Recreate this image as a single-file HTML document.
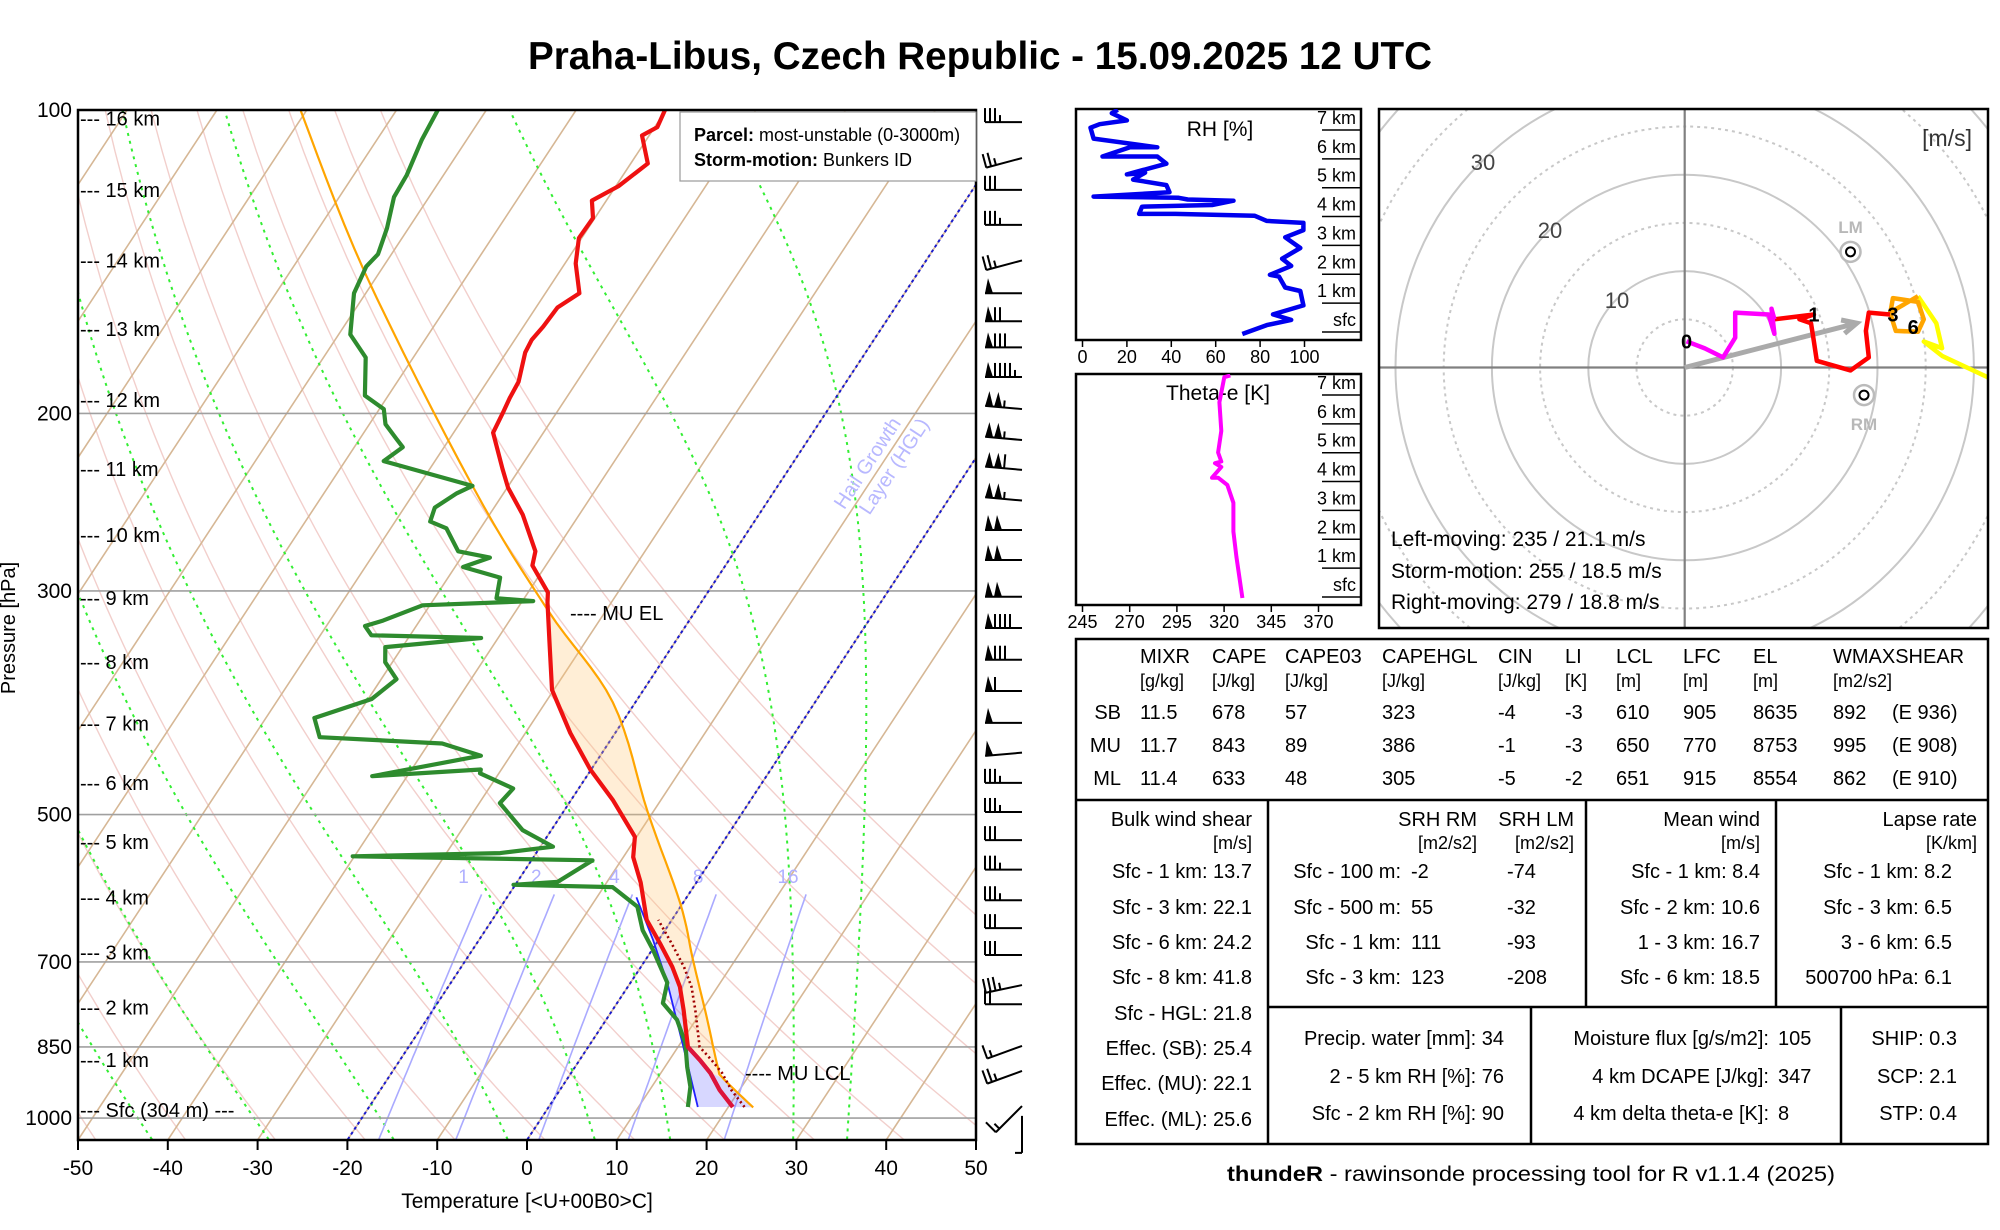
<!DOCTYPE html>
<html><head><meta charset="utf-8"><title>Praha-Libus sounding</title>
<style>
html,body{margin:0;padding:0;background:#fff;}
svg{display:block;font-family:"Liberation Sans",Arial,sans-serif;}
.t{font-size:20px;fill:#000;}
</style></head>
<body>
<svg id="root" xmlns="http://www.w3.org/2000/svg" width="2000" height="1230" viewBox="0 0 2000 1230">
<rect x="0" y="0" width="2000" height="1230" fill="#fff"/>
<text x="980" y="69" text-anchor="middle" font-size="39" font-weight="bold" textLength="904" lengthAdjust="spacingAndGlyphs">Praha-Libus, Czech Republic - 15.09.2025 12 UTC</text>
<defs>
<clipPath id="skewclip"><rect x="78" y="110" width="898" height="1030"/></clipPath>
<clipPath id="hodoclip"><rect x="1379" y="109" width="609" height="519"/></clipPath>
<clipPath id="rhclip"><rect x="1076" y="109" width="285" height="231"/></clipPath>
<clipPath id="thclip"><rect x="1076" y="374" width="285" height="231"/></clipPath>
</defs>
<g id="skew"></g>
<g id="barbs"></g>
<g id="rh"></g>
<g id="th"></g>
<g id="hodo"></g>

<g id="table" class="t">
<rect x="1076" y="639" width="912" height="505" fill="none" stroke="#000" stroke-width="2.5"/>
<line x1="1076" y1="800" x2="1988" y2="800" stroke="#000" stroke-width="2.5"/>
<line x1="1268" y1="800" x2="1268" y2="1144" stroke="#000" stroke-width="2.5"/>
<line x1="1586" y1="800" x2="1586" y2="1007" stroke="#000" stroke-width="2.5"/>
<line x1="1776" y1="800" x2="1776" y2="1007" stroke="#000" stroke-width="2.5"/>
<line x1="1268" y1="1007" x2="1988" y2="1007" stroke="#000" stroke-width="2.5"/>
<line x1="1531" y1="1007" x2="1531" y2="1144" stroke="#000" stroke-width="2.5"/>
<line x1="1841" y1="1007" x2="1841" y2="1144" stroke="#000" stroke-width="2.5"/>
<g dominant-baseline="central">
<text x="1140" y="657">MIXR</text>
<text x="1212" y="657">CAPE</text>
<text x="1285" y="657">CAPE03</text>
<text x="1382" y="657">CAPEHGL</text>
<text x="1498" y="657">CIN</text>
<text x="1565" y="657">LI</text>
<text x="1616" y="657">LCL</text>
<text x="1683" y="657">LFC</text>
<text x="1753" y="657">EL</text>
<text x="1833" y="657">WMAXSHEAR</text>
<g font-size="18">
<text x="1140" y="681">[g/kg]</text>
<text x="1212" y="681">[J/kg]</text>
<text x="1285" y="681">[J/kg]</text>
<text x="1382" y="681">[J/kg]</text>
<text x="1498" y="681">[J/kg]</text>
<text x="1565" y="681">[K]</text>
<text x="1616" y="681">[m]</text>
<text x="1683" y="681">[m]</text>
<text x="1753" y="681">[m]</text>
<text x="1833" y="681">[m2/s2]</text>
</g>
<g>
<text x="1121" y="713" text-anchor="end">SB</text>
<text x="1140" y="713">11.5</text>
<text x="1212" y="713">678</text>
<text x="1285" y="713">57</text>
<text x="1382" y="713">323</text>
<text x="1498" y="713">-4</text>
<text x="1565" y="713">-3</text>
<text x="1616" y="713">610</text>
<text x="1683" y="713">905</text>
<text x="1753" y="713">8635</text>
<text x="1833" y="713">892</text>
<text x="1892" y="713">(E 936)</text>
</g>
<g>
<text x="1121" y="746" text-anchor="end">MU</text>
<text x="1140" y="746">11.7</text>
<text x="1212" y="746">843</text>
<text x="1285" y="746">89</text>
<text x="1382" y="746">386</text>
<text x="1498" y="746">-1</text>
<text x="1565" y="746">-3</text>
<text x="1616" y="746">650</text>
<text x="1683" y="746">770</text>
<text x="1753" y="746">8753</text>
<text x="1833" y="746">995</text>
<text x="1892" y="746">(E 908)</text>
</g>
<g>
<text x="1121" y="779" text-anchor="end">ML</text>
<text x="1140" y="779">11.4</text>
<text x="1212" y="779">633</text>
<text x="1285" y="779">48</text>
<text x="1382" y="779">305</text>
<text x="1498" y="779">-5</text>
<text x="1565" y="779">-2</text>
<text x="1616" y="779">651</text>
<text x="1683" y="779">915</text>
<text x="1753" y="779">8554</text>
<text x="1833" y="779">862</text>
<text x="1892" y="779">(E 910)</text>
</g>
</g>
<g dominant-baseline="central" text-anchor="end">
<text x="1252" y="820">Bulk wind shear</text>
<text x="1252" y="843" font-size="18">[m/s]</text>
<text x="1252" y="872">Sfc - 1 km: 13.7</text>
<text x="1252" y="908">Sfc - 3 km: 22.1</text>
<text x="1252" y="943">Sfc - 6 km: 24.2</text>
<text x="1252" y="978">Sfc - 8 km: 41.8</text>
<text x="1252" y="1014">Sfc - HGL: 21.8</text>
<text x="1252" y="1049">Effec. (SB): 25.4</text>
<text x="1252" y="1084">Effec. (MU): 22.1</text>
<text x="1252" y="1120">Effec. (ML): 25.6</text>
</g>
<g dominant-baseline="central">
<text x="1477" y="820" text-anchor="end">SRH RM</text>
<text x="1574" y="820" text-anchor="end">SRH LM</text>
<text x="1477" y="843" text-anchor="end" font-size="18">[m2/s2]</text>
<text x="1574" y="843" text-anchor="end" font-size="18">[m2/s2]</text>
<text x="1401" y="872" text-anchor="end">Sfc - 100 m:</text>
<text x="1411" y="872">-2</text>
<text x="1507" y="872">-74</text>
<text x="1401" y="908" text-anchor="end">Sfc - 500 m:</text>
<text x="1411" y="908">55</text>
<text x="1507" y="908">-32</text>
<text x="1401" y="943" text-anchor="end">Sfc - 1 km:</text>
<text x="1411" y="943">111</text>
<text x="1507" y="943">-93</text>
<text x="1401" y="978" text-anchor="end">Sfc - 3 km:</text>
<text x="1411" y="978">123</text>
<text x="1507" y="978">-208</text>
</g>
<g dominant-baseline="central" text-anchor="end">
<text x="1760" y="820">Mean wind</text>
<text x="1760" y="843" font-size="18">[m/s]</text>
<text x="1760" y="872">Sfc - 1 km: 8.4</text>
<text x="1760" y="908">Sfc - 2 km: 10.6</text>
<text x="1760" y="943">1 - 3 km: 16.7</text>
<text x="1760" y="978">Sfc - 6 km: 18.5</text>
</g>
<g dominant-baseline="central" text-anchor="end">
<text x="1977" y="820">Lapse rate</text>
<text x="1977" y="843" font-size="18">[K/km]</text>
<text x="1952" y="872">Sfc - 1 km: 8.2</text>
<text x="1952" y="908">Sfc - 3 km: 6.5</text>
<text x="1952" y="943">3 - 6 km: 6.5</text>
<text x="1952" y="978">500700 hPa: 6.1</text>
</g>
<g dominant-baseline="central" text-anchor="end">
<text x="1504" y="1039">Precip. water [mm]: 34</text>
<text x="1504" y="1077">2 - 5 km RH [%]: 76</text>
<text x="1504" y="1114">Sfc - 2 km RH [%]: 90</text>
</g>
<g dominant-baseline="central">
<text x="1769" y="1039" text-anchor="end">Moisture flux [g/s/m2]:</text>
<text x="1778" y="1039">105</text>
<text x="1769" y="1077" text-anchor="end">4 km DCAPE [J/kg]:</text>
<text x="1778" y="1077">347</text>
<text x="1769" y="1114" text-anchor="end">4 km delta theta-e [K]:</text>
<text x="1778" y="1114">8</text>
</g>
<g dominant-baseline="central" text-anchor="end">
<text x="1957" y="1039">SHIP: 0.3</text>
<text x="1957" y="1077">SCP: 2.1</text>
<text x="1957" y="1114">STP: 0.4</text>
</g>
</g>
<text x="1531" y="1181" text-anchor="middle" font-size="21" textLength="608" lengthAdjust="spacingAndGlyphs"><tspan font-weight="bold">thundeR</tspan> - rawinsonde processing tool for R v1.1.4 (2025)</text>
</svg>

<script>
// ---------- data ----------
const tempP=[975,938,902,876,850,781,741,708,671,636,584,551,526,484,451,415,376,336,308,301,283,274,252,237,227,209,199,193,186,174,169,164,157,152,142,134,128,123,119,113,106,104,100];
const tempC=[20.5,17.8,15.5,13.4,11.1,7.9,5.8,3.5,0.4,-2.8,-6.2,-8.9,-10.2,-15.3,-20.1,-25,-30.2,-34.1,-37.1,-37.8,-41.5,-42.2,-46.3,-49.9,-51.9,-55.6,-56,-56.3,-56.5,-57.9,-58.1,-57.8,-57.6,-56.2,-58.8,-60.3,-60.2,-61.6,-59.7,-58.1,-60.8,-59.7,-60.1];
const dewP=[975,931,890,842,799,769,734,681,651,617,590,587,583,555,550,546,538,518,487,471,455,451,458,437,425,419,401,384,367,353,341,334,332,325,321,310,307,305,291,284,278,274,260,256,248,240,236,223,216,212,205,198,192,176,167,152,143,139,131,122,116,107,100];
const dewC=[15.5,14.3,12.5,10.5,7.9,5.1,4.1,0.1,-2.5,-4.8,-9,-20.2,-15.5,-13.2,-40.2,-24,-18.6,-23.2,-27.7,-27.3,-32.1,-32.3,-43.9,-33.3,-38.5,-52.6,-54.6,-49.6,-48.3,-50.8,-51.9,-41.9,-54.3,-55.7,-54.1,-50.8,-38.8,-43.1,-44.2,-49.1,-46.8,-50.8,-53.8,-56.1,-56.6,-55.2,-54,-65.7,-64.6,-65.9,-68.2,-69.5,-72.6,-75.3,-78.7,-81.3,-81.9,-81.5,-82.4,-83.9,-84.1,-85,-85.4];
const parcelP=[976,913,890,794,697,612,498,387,313,236,145,100];
const parcelC=[22.8,17.3,15.9,11,5.3,-0.3,-10.5,-22.5,-36.6,-54,-81.6,-100.7];
const wetbulbP=[975,850,734,666,604];
const wetbulbC=[16.6,10.6,4.1,-0.6,-5.6];
const barbP=[102.8,111.6,120,130,141,152,162,172,184,198,212.5,227.5,244,261,279.5,304,326.5,351,377,405.5,434,465,497,530,567,608,648,689,738,771,848,898,973,995];
const barbSpd=[35,25,30,35,25,50,70,80,95,105,105,110,105,100,100,100,90,80,60,50,50,35,35,30,35,35,30,30,35,20,15,25,15,5];
const barbDir=[270,255,270,270,255,270,270,270,270,275,275,275,275,270,270,270,270,270,270,270,265,270,270,270,270,270,270,270,258,270,250,250,225,180];
const heightKm=["16 km","15 km","14 km","13 km","12 km","11 km","10 km","9 km","8 km","7 km","6 km","5 km","4 km","3 km","2 km","1 km"];
const heightP=[102,120,141,165,194,227,264,305,353,406,465,532,604,685,777,876];
const rhH=[0,0.31,0.49,0.68,0.99,1.49,1.61,1.99,2.05,2.36,2.61,2.98,3.35,3.6,3.85,3.92,4.1,4.16,4.16,4.41,4.47,4.62,4.66,4.72,4.76,4.91,5.16,5.35,5.59,5.53,5.9,6.15,6.15,6.47,6.47,6.77,7.15,7.27,7.4,7.65,7.77];
const rhV=[72,83,94,85.8,99.5,98.1,91.3,88.5,84.4,94,89.9,98.1,91.3,99.5,99.5,83,77.5,41.9,25.5,26.8,58.4,68,47.4,43.3,5,39.2,37.8,22.8,28.2,20,37.8,33.7,9,21.4,33.7,5,3.6,7.7,20,13.2,15.9];
const thH=[0,1.43,2.3,3.3,3.92,4.17,4.17,4.54,4.67,4.73,5.04,5.79,6.78,7.65,7.71];
const thV=[329.7,326.5,324.9,324.9,321.7,316.8,313.6,318.5,315.2,318.5,316.8,318.5,317.5,320.1,323.3];
const hodoMagU=[0.19,2.08,3.97,5.24,5.24,8.7,9.3,9.0,9.3];
const hodoMagV=[2.72,1.98,1.05,3.09,5.7,5.5,3.5,6.1,5.0];
const hodoRedU=[9.3,13.4,11.9,13.1,13.4,13.7,17.2,19.1,18.8,19.1,21.3];
const hodoRedV=[5.0,5.5,5.0,4.6,2.7,0.7,-0.3,1.05,3.8,5.7,5.5];
const hodoOrgU=[21.3,21.6,24.2,24.8,24.2,21.9,21.3,24.2];
const hodoOrgV=[5.5,7.2,6.8,5.0,3.7,3.8,5.7,7.4];
const hodoYelU=[24.2,26.1,26.7,24.8,26.7,31.4,33.6];
const hodoYelV=[7.4,4.6,2.0,2.7,1.2,-1.0,-2.5];
const stormLM=[17.2,12.0];
const stormRM=[18.6,-2.86];
const stormMean=[17.85,4.6];
const xTicks=[-50,-40,-30,-20,-10,0,10,20,30,40,50];
const pTicks=[100,200,300,500,700,850,1000];
const rhTicks=[0,20,40,60,80,100];
const thTicks=[245,270,295,320,345,370];
const mixLines=[1,2,4,8,16];

// ---------- geometry ----------
const NS="http://www.w3.org/2000/svg";
const L=78,R=976,TOP=110,BOT=1140,PPD=8.98,SK=0.658,PS=437.8;
function yP(p){return TOP+Math.log(p/100)*PS;}
function xT(t,p){return L+(t+50)*PPD+(BOT-yP(p))*SK;}
function el(tag,attrs,parent){const e=document.createElementNS(NS,tag);for(const k in attrs)e.setAttribute(k,attrs[k]);parent.appendChild(e);return e;}
function pathTP(ps,ts){let d="";for(let i=0;i<ps.length;i++){d+=(i?"L":"M")+xT(ts[i],ps[i]).toFixed(1)+","+yP(ps[i]).toFixed(1);}return d;}
// smooth point list (Catmull-Rom sampled)
function smoothPts(pts,n){const out=[];for(let i=0;i<pts.length-1;i++){const p0=pts[Math.max(i-1,0)],p1=pts[i],p2=pts[i+1],p3=pts[Math.min(i+2,pts.length-1)];
  for(let k=0;k<n;k++){const t=k/n,t2=t*t,t3=t2*t;
    out.push([0.5*((2*p1[0])+(-p0[0]+p2[0])*t+(2*p0[0]-5*p1[0]+4*p2[0]-p3[0])*t2+(-p0[0]+3*p1[0]-3*p2[0]+p3[0])*t3),
              0.5*((2*p1[1])+(-p0[1]+p2[1])*t+(2*p0[1]-5*p1[1]+4*p2[1]-p3[1])*t2+(-p0[1]+3*p1[1]-3*p2[1]+p3[1])*t3)]);}}
  out.push(pts[pts.length-1]);return out;}

const skew=document.getElementById("skew");
const bg=el("g",{"clip-path":"url(#skewclip)"},skew);



for(let k=-10;k<=12;k++){
  const T0=-38.1+10*k+273.15;let d="";
  for(let p=1050;p>=100;p-=10){const t=T0*Math.pow(p/1050,0.2857)-273.15;d+=(p===1050?"M":"L")+xT(t,p).toFixed(1)+","+yP(p).toFixed(1);}
  const e=el("path",{d:d,fill:"none",stroke:"#f2cfcc","stroke-width":1.4},bg);
  
  
}
for(let t=-160;t<=50;t+=10){
  const e=el("line",{x1:xT(t,1050),y1:yP(1050),x2:xT(t,100),y2:yP(100),stroke:"#d6b795","stroke-width":1.6},bg);
  
  
}
function dTdp(T,p){const es=6.112*Math.exp(17.67*(T-273.15)/(T-29.65));const rs=0.622*es/(p-es);return (287*T+2.5e6*rs)/(p*(1004+2.5e6*2.5e6*rs*0.622/(287*T*T)));}
[-41.8,-28.8,-14.9,-2.2,7.5,15.9,29.6,35.6].forEach(t0=>{
  let T=t0+273.15,d="M"+xT(t0,1050).toFixed(1)+","+yP(1050).toFixed(1);
  for(let p=1050;p>100;p-=5){T+=dTdp(T,p)*(-5);d+="L"+xT(T-273.15,p-5).toFixed(1)+","+yP(p-5).toFixed(1);}
  const e=el("path",{d:d,fill:"none",stroke:"#33ee33","stroke-width":2,"stroke-dasharray":"3,5"},bg);
  
  
});
mixLines.forEach(w=>{
  let d="";
  for(let p=1050;p>=600;p-=10){const e=(w/1000)*p/(0.622+w/1000);const lg=Math.log(e/6.112);const td=243.5*lg/(17.67-lg);d+=(p===1050?"M":"L")+xT(td,p).toFixed(1)+","+yP(p).toFixed(1);}
  const ln=el("path",{d:d,fill:"none",stroke:"#aaaaff","stroke-width":1.6},bg);
  
  
  const e=(w/1000)*600/(0.622+w/1000);const lg=Math.log(e/6.112);const td=243.5*lg/(17.67-lg);
  const tx=el("text",{x:xT(td,600)-18,y:883,"font-size":19,fill:"#b0b0ff","text-anchor":"middle"},bg);
  tx.textContent=String(w);
  
  
});
pTicks.forEach(p=>{
  const e=el("line",{x1:L,y1:yP(p),x2:R,y2:yP(p),stroke:"#a0a0a0","stroke-width":1.6},bg);
  
  
});
[-20,0].forEach(t=>{
  const e=el("line",{x1:xT(t,1050),y1:yP(1050),x2:xT(t,100),y2:yP(100),stroke:"#1a1acc","stroke-width":2,"stroke-dasharray":"3,3"},bg);
  
  
});
const hgl=el("text",{x:0,y:0,"font-size":20,fill:"#b8b8ff","text-anchor":"middle",transform:"translate(878,470) rotate(-56.7)"},bg);


const hs1=el("tspan",{x:0,dy:-6},hgl);hs1.textContent="Hail Growth";


const hs2=el("tspan",{x:12,dy:24},hgl);hs2.textContent="Layer (HGL)";



const dl=el("g",{"clip-path":"url(#skewclip)"},skew);



// smoothed parcel (pixel) points
const parcelRaw=parcelP.map((p,i)=>[xT(parcelC[i],p),yP(p)]);
const parcelSm=smoothPts(parcelRaw,8);
(function(){
  const y1=yP(913),y2=yP(313);
  let pts=parcelSm.filter(q=>q[1]<=y1+0.5&&q[1]>=y2-0.5);
  for(let i=tempP.length-1;i>=0;i--){if(tempP[i]<=902&&tempP[i]>=308)pts.push([xT(tempC[i],tempP[i]),yP(tempP[i])]);}
  const e=el("polygon",{points:pts.map(q=>q[0].toFixed(1)+","+q[1].toFixed(1)).join(" "),fill:"rgba(255,200,120,0.3)",stroke:"none"},dl);
  
  
})();
(function(){
  let pts=[];
  for(let i=0;i<wetbulbP.length;i++)pts.push([xT(wetbulbC[i],wetbulbP[i]),yP(wetbulbP[i])]);
  const tp=[];
  for(let i=0;i<tempP.length;i++){if(tempP[i]>=604)tp.push([xT(tempC[i],tempP[i]),yP(tempP[i])]);}
  const ord=pts.concat(tp.reverse());
  const e=el("polygon",{points:ord.map(q=>q[0].toFixed(1)+","+q[1].toFixed(1)).join(" "),fill:"rgba(110,110,255,0.28)",stroke:"none"},dl);
  
  
  const p2=[xT(parcelC[0],parcelP[0]),yP(parcelP[0])];
  const e2=el("polygon",{points:[[xT(tempC[0],tempP[0]),yP(tempP[0])],p2,[xT(parcelC[1],parcelP[1]),yP(parcelP[1])],[xT(tempC[2],tempP[2]),yP(tempP[2])]].map(q=>q[0].toFixed(1)+","+q[1].toFixed(1)).join(" "),fill:"rgba(110,110,255,0.28)"},dl);
  
  
})();
let e;
e=el("path",{d:"M"+parcelSm.map(q=>q[0].toFixed(1)+","+q[1].toFixed(1)).join("L"),fill:"none",stroke:"#ffa500","stroke-width":2.2},dl);


e=el("path",{d:pathTP(wetbulbP,wetbulbC),fill:"none",stroke:"#2222ff","stroke-width":1.8},dl);


e=el("path",{d:pathTP(dewP,dewC),fill:"none",stroke:"#2e8b2e","stroke-width":4.2,"stroke-linejoin":"round"},dl);


(function(){const vp=[],vc=[];for(let i=0;i<tempP.length;i++){if(tempP[i]>=600){vp.push(tempP[i]);vc.push(tempC[i]+1.3);}}
  const v=el("path",{d:pathTP(vp,vc),fill:"none",stroke:"#a00000","stroke-width":2.6,"stroke-dasharray":"2,3"},dl);
  
  })();
e=el("path",{d:pathTP(tempP,tempC),fill:"none",stroke:"#ee1111","stroke-width":4.2,"stroke-linejoin":"round"},dl);


(function(){const lp=tempP.filter(p=>p>=850),lc=tempC.slice(0,lp.length);
  const c=el("path",{d:pathTP(lp,lc),fill:"none",stroke:"#dc143c","stroke-width":4.2},dl);
  
  })();

e=el("rect",{x:L,y:TOP,width:R-L,height:BOT-TOP,fill:"none",stroke:"#000","stroke-width":2.5},skew);


e=el("rect",{x:680,y:112,width:296,height:69,fill:"#fff",stroke:"#999","stroke-width":1.2},skew);


e=el("text",{x:694,y:141,"font-size":18},skew);
e.innerHTML='<tspan font-weight="bold">Parcel:</tspan> most-unstable (0-3000m)';


e=el("text",{x:694,y:166,"font-size":18},skew);
e.innerHTML='<tspan font-weight="bold">Storm-motion:</tspan> Bunkers ID';


xTicks.forEach(t=>{
  const x=L+(t+50)*PPD;
  const a=el("line",{x1:x,y1:BOT,x2:x,y2:BOT+10,stroke:"#000","stroke-width":2},skew);
  
  
  const b=el("text",{x:x,y:1175,"font-size":21,"text-anchor":"middle"},skew);
  b.textContent=String(t);
  
  
});
e=el("text",{x:527,y:1208,"font-size":21,"text-anchor":"middle"},skew);
e.textContent="Temperature [<U+00B0>C]";


pTicks.forEach(p=>{
  const b=el("text",{x:72,y:yP(p)+7,"font-size":21,"text-anchor":"end"},skew);
  b.textContent=String(p);
  
  
});
e=el("text",{x:0,y:0,"font-size":20,"text-anchor":"middle",transform:"translate(15,628) rotate(-90)"},skew);
e.textContent="Pressure [hPa]";


heightKm.forEach((h,i)=>{
  const b=el("text",{x:80,y:yP(heightP[i])+7,"font-size":20},skew);
  b.textContent="--- "+h;
  
  
});
e=el("text",{x:80,y:1117,"font-size":20},skew);
e.textContent="--- Sfc (304 m) ---";


e=el("text",{x:570,y:620,"font-size":20},skew);
e.textContent="---- MU EL";


e=el("text",{x:745,y:1080,"font-size":20},skew);
e.textContent="---- MU LCL";



// ---------- wind barbs ----------
const bgp=document.getElementById("barbs");
barbP.forEach((p,i)=>{
  const y=yP(p),x0=1022,d=barbDir[i]*Math.PI/180;
  const sx=Math.sin(d),sy=-Math.cos(d),px=-sy,py=sx,len=37;
  const g=el("g",{stroke:"#000","stroke-width":2,fill:"#000"},bgp);
  
  
  const st=el("line",{x1:x0,y1:y,x2:x0+sx*len,y2:y+sy*len},g);
  
  
  let s=barbSpd[i],pos=len;
  const nf=Math.floor(s/50);s-=nf*50;const nb=Math.floor(s/10);s-=nb*10;const nh=s>=5?1:0;
  for(let k=0;k<nf;k++){
    const ax=x0+sx*pos,ay=y+sy*pos,bx=x0+sx*(pos-8),by=y+sy*(pos-8);
    const f=el("polygon",{points:`${ax},${ay} ${ax+px*15+sx*-3},${ay+py*15+sy*-3} ${bx},${by}`,stroke:"none"},g);
    
    
    pos-=9;
  }
  if(nf>0)pos-=1;
  for(let k=0;k<nb;k++){
    const ax=x0+sx*pos,ay=y+sy*pos;
    const b=el("line",{x1:ax,y1:ay,x2:ax+px*14,y2:ay+py*14},g);
    
    
    pos-=5;
  }
  if(nh){
    if(nf+nb===0)pos-=0;
    const ax=x0+sx*pos,ay=y+sy*pos;
    const b=el("line",{x1:ax,y1:ay,x2:ax+px*7,y2:ay+py*7},g);
    
    
  }
});

// ---------- RH panel ----------
const rh=document.getElementById("rh");
function rhX(v){return 1082.5+2.22*v;}
function rhY(h){return 334-28.86*h;}
e=el("rect",{x:1076,y:109,width:285,height:231,fill:"none",stroke:"#000","stroke-width":2.5},rh);


for(let h=0;h<=7;h++){
  const a=el("line",{x1:1322,y1:rhY(h)-2,x2:1361,y2:rhY(h)-2,stroke:"#000","stroke-width":1.5},rh);
  
  
  const b=el("text",{x:1356,y:rhY(h)-8,"font-size":18,"text-anchor":"end"},rh);
  b.textContent=h===0?"sfc":h+" km";
  
  
}
e=el("text",{x:1220,y:136,"font-size":21,"text-anchor":"middle"},rh);
e.textContent="RH [%]";


rhTicks.forEach(v=>{
  const a=el("line",{x1:rhX(v),y1:340,x2:rhX(v),y2:347,stroke:"#000","stroke-width":1.5},rh);
  
  
  const b=el("text",{x:rhX(v),y:363,"font-size":18,"text-anchor":"middle"},rh);
  b.textContent=String(v);
  
  
});
(function(){let d="";for(let i=0;i<rhH.length;i++)d+=(i?"L":"M")+rhX(rhV[i]).toFixed(1)+","+rhY(rhH[i]).toFixed(1);
  const l=el("path",{d:d,fill:"none",stroke:"#0000ee","stroke-width":4.5,"stroke-linejoin":"round","clip-path":"url(#rhclip)"},rh);
  
  })();

// ---------- theta-e panel ----------
const th=document.getElementById("th");
function thX(v){return 1082.5+1.888*(v-245);}
function thY(h){return 598-28.86*h;}
e=el("rect",{x:1076,y:374,width:285,height:231,fill:"none",stroke:"#000","stroke-width":2.5},th);


for(let h=0;h<=7;h++){
  const a=el("line",{x1:1322,y1:thY(h)-1,x2:1361,y2:thY(h)-1,stroke:"#000","stroke-width":1.5},th);
  
  
  const b=el("text",{x:1356,y:thY(h)-7,"font-size":18,"text-anchor":"end"},th);
  b.textContent=h===0?"sfc":h+" km";
  
  
}
e=el("text",{x:1218,y:400,"font-size":21,"text-anchor":"middle"},th);
e.textContent="Theta-e [K]";


thTicks.forEach(v=>{
  const a=el("line",{x1:thX(v),y1:605,x2:thX(v),y2:612,stroke:"#000","stroke-width":1.5},th);
  
  
  const b=el("text",{x:thX(v),y:628,"font-size":18,"text-anchor":"middle"},th);
  b.textContent=String(v);
  
  
});
(function(){let d="";for(let i=0;i<thH.length;i++)d+=(i?"L":"M")+thX(thV[i]).toFixed(1)+","+thY(thH[i]).toFixed(1);
  const l=el("path",{d:d,fill:"none",stroke:"#ff00ff","stroke-width":4,"stroke-linejoin":"round","clip-path":"url(#thclip)"},th);
  
  })();

// ---------- hodograph ----------
const ho=document.getElementById("hodo");
const HX=1684.7,HY=367.5,HS=9.64;
function hx(u){return HX+u*HS;}
function hy(v){return HY-v*HS;}
const hg=el("g",{"clip-path":"url(#hodoclip)"},ho);


for(let r=5;r<=60;r+=5){
  const c=el("circle",{cx:HX,cy:HY,r:r*HS,fill:"none",stroke:"#c8c8c8","stroke-width":2,"stroke-dasharray":r%10===0?"none":"3,4"},hg);
  
  
}
e=el("line",{x1:1379,y1:HY,x2:1988,y2:HY,stroke:"#808080","stroke-width":2.2},hg);


e=el("line",{x1:HX,y1:109,x2:HX,y2:628,stroke:"#808080","stroke-width":2.2},hg);


[["30",1483,170],["20",1550,238],["10",1617,308]].forEach(a=>{
  const t=el("text",{x:a[1],y:a[2],"font-size":22,"text-anchor":"middle",fill:"#444"},hg);
  t.textContent=a[0];
  
  
});
function hpath(U,V){let d="";for(let i=0;i<U.length;i++)d+=(i?"L":"M")+hx(U[i]).toFixed(1)+","+hy(V[i]).toFixed(1);return d;}
e=el("line",{x1:HX,y1:HY,x2:hx(stormMean[0]),y2:hy(stormMean[1]),stroke:"#aaaaaa","stroke-width":5},hg);


(function(){const ang=Math.atan2(-stormMean[1],stormMean[0]);const tx=hx(stormMean[0]),ty=hy(stormMean[1]);
  const a=el("path",{d:`M${tx-16*Math.cos(ang-0.45)},${ty-16*Math.sin(ang-0.45)}L${tx},${ty}L${tx-16*Math.cos(ang+0.45)},${ty-16*Math.sin(ang+0.45)}`,fill:"none",stroke:"#aaaaaa","stroke-width":5},hg);
  
  })();
e=el("path",{d:hpath(hodoYelU,hodoYelV),fill:"none",stroke:"#ffff00","stroke-width":4.5,"stroke-linejoin":"round"},hg);


e=el("path",{d:hpath(hodoOrgU,hodoOrgV),fill:"none",stroke:"#ffa500","stroke-width":4.5,"stroke-linejoin":"round"},hg);


e=el("path",{d:hpath(hodoRedU,hodoRedV),fill:"none",stroke:"#ff0000","stroke-width":4.5,"stroke-linejoin":"round"},hg);


e=el("path",{d:hpath(hodoMagU,hodoMagV),fill:"none",stroke:"#ff00ff","stroke-width":4.5,"stroke-linejoin":"round"},hg);


[["0",hodoMagU[0],hodoMagV[0]],["1",hodoRedU[1],hodoRedV[1]],["3",hodoOrgU[0]+0.3,hodoOrgV[0]],["6",hodoOrgU[4]-0.5,hodoOrgV[4]+0.5]].forEach(a=>{
  const t=el("text",{x:hx(a[1]),y:hy(a[2])+7,"font-size":20,"font-weight":"bold","text-anchor":"middle"},hg);
  t.textContent=a[0];
  
  
});
[["LM",stormLM,-24],["RM",stormRM,30]].forEach(a=>{
  const c=el("circle",{cx:hx(a[1][0]),cy:hy(a[1][1]),r:10,fill:"#fff",stroke:"#bbb","stroke-width":2.5},hg);
  
  
  const o=el("circle",{cx:hx(a[1][0]),cy:hy(a[1][1]),r:4.5,fill:"none",stroke:"#000","stroke-width":2},hg);
  
  
  const t=el("text",{x:hx(a[1][0]),y:hy(a[1][1])+a[2]+5,"font-size":17,"font-weight":"bold","text-anchor":"middle",fill:"#b8b8b8"},hg);
  t.textContent=a[0];
  
  
});
e=el("rect",{x:1379,y:109,width:609,height:519,fill:"none",stroke:"#000","stroke-width":2.5},ho);


e=el("text",{x:1972,y:146,"font-size":23,"text-anchor":"end",fill:"#333"},ho);
e.textContent="[m/s]";


[["Left-moving: 235 / 21.1 m/s",546],["Storm-motion: 255 / 18.5 m/s",578],["Right-moving: 279 / 18.8 m/s",609]].forEach(a=>{
  const t=el("text",{x:1391,y:a[1],"font-size":21},ho);
  t.textContent=a[0];
  
  
});
</script>
</body></html>
